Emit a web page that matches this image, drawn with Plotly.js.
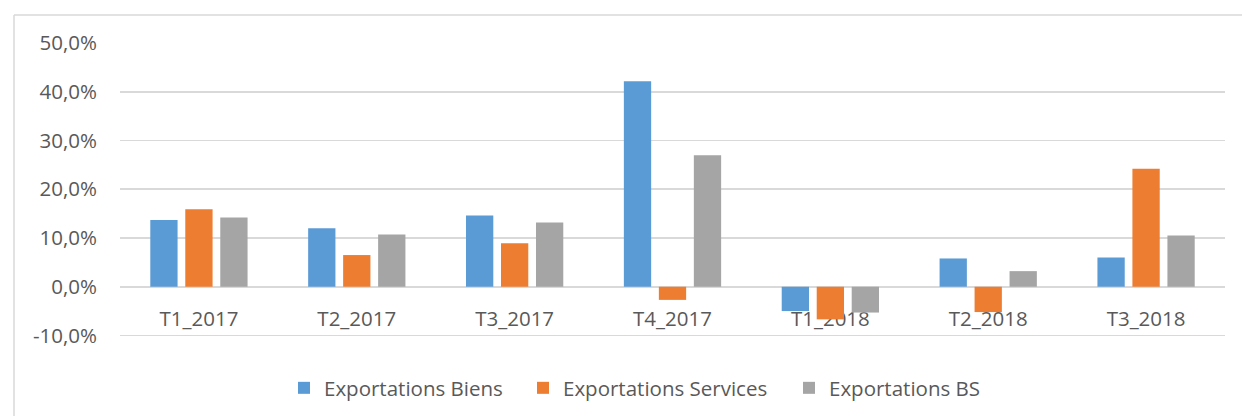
<!DOCTYPE html>
<html>
<head>
<meta charset="utf-8">
<script src="https://cdn.plot.ly/plotly-3.0.1.min.js"></script>
<style>html,body{margin:0;padding:0;background:#fff;}#chart{width:1242px;height:416px;}</style>
</head>
<body>
<div id="chart"></div>
<script>
var categories = ["T1_2017", "T2_2017", "T3_2017", "T4_2017", "T1_2018", "T2_2018", "T3_2018"];
var exportationsBiens = [0.137, 0.120, 0.146, 0.422, -0.050, 0.058, 0.060];
var exportationsServices = [0.159, 0.065, 0.089, -0.027, -0.067, -0.052, 0.242];
var exportationsBS = [0.142, 0.107, 0.132, 0.270, -0.053, 0.032, 0.105];
var seriesNames = ["Exportations Biens", "Exportations Services", "Exportations BS"];
var yTickVals = [-0.1, 0, 0.1, 0.2, 0.3, 0.4, 0.5];
var yTickText = ["-10,0%", "0,0%", "10,0%", "20,0%", "30,0%", "40,0%", "50,0%"];

var colors = ["#5B9BD5", "#ED7D31", "#A5A5A5"];
var FONT = "Open Sans, sans-serif";
var FS = 20.5;
var TXT = "#595959";
var GRID = "#D9D9D9";

// plot area: x 120..1225, y 43..337
var L = 120, R = 1225, T = 43, B = 337;
var W = R - L, H = B - T;
var zeroPos = (B - 286.5) / H;

var legendNames = ["legend", "legend2", "legend3"];
var legendSquareX = [300, 539, 805];

var seriesValues = [exportationsBiens, exportationsServices, exportationsBS];
var data = seriesValues.map(function (vals, i) {
  return {
    type: "bar",
    x: categories,
    y: vals,
    name: seriesNames[i],
    legend: legendNames[i],
    marker: { color: colors[i] },
    hoverinfo: "x+y+name"
  };
});

function legendDef(i) {
  return {
    orientation: "h",
    x: (legendSquareX[i] - 16 - L) / W,
    xanchor: "left",
    y: (B - 388) / H,
    yanchor: "middle",
    font: { family: FONT, size: FS, color: TXT },
    bgcolor: "rgba(0,0,0,0)",
    borderwidth: 0
  };
}

var layout = {
  width: 1242,
  height: 416,
  margin: { l: L, r: 1242 - R, t: T, b: 416 - B, pad: 0, autoexpand: false },
  paper_bgcolor: "#ffffff",
  plot_bgcolor: "#ffffff",
  font: { family: FONT, size: FS, color: TXT },
  barmode: "group",
  bargap: 0.335,
  bargroupgap: 0.22,
  showlegend: true,
  legend: legendDef(0),
  legend2: legendDef(1),
  legend3: legendDef(2),
  xaxis: {
    type: "category",
    anchor: "free",
    position: zeroPos,
    showgrid: false,
    showline: false,
    zeroline: false,
    ticks: "",
    ticklabelstandoff: 18,
    layer: "below traces",
    tickfont: { family: FONT, size: FS, color: TXT },
    fixedrange: true
  },
  yaxis: {
    range: [-0.1032, 0.5003],
    tickmode: "array",
    tickvals: yTickVals,
    ticktext: yTickText,
    showgrid: true,
    gridcolor: GRID,
    gridwidth: 1.6,
    zeroline: true,
    zerolinecolor: GRID,
    zerolinewidth: 1.6,
    showline: false,
    ticks: "",
    ticklabelstandoff: 22,
    tickfont: { family: FONT, size: FS, color: TXT },
    fixedrange: true
  },
  shapes: [
    {
      type: "line", xref: "paper", yref: "paper",
      x0: (14 - L) / W, x1: (14 - L) / W,
      y0: (B - 15) / H, y1: (B - 420) / H,
      line: { color: GRID, width: 1.5 }
    },
    {
      type: "line", xref: "paper", yref: "paper",
      x0: (14 - L) / W, x1: (1250 - L) / W,
      y0: (B - 15) / H, y1: (B - 15) / H,
      line: { color: GRID, width: 1.5 }
    }
  ]
};

Plotly.newPlot("chart", data, layout, { displayModeBar: false, staticPlot: true });
</script>
</body>
</html>
